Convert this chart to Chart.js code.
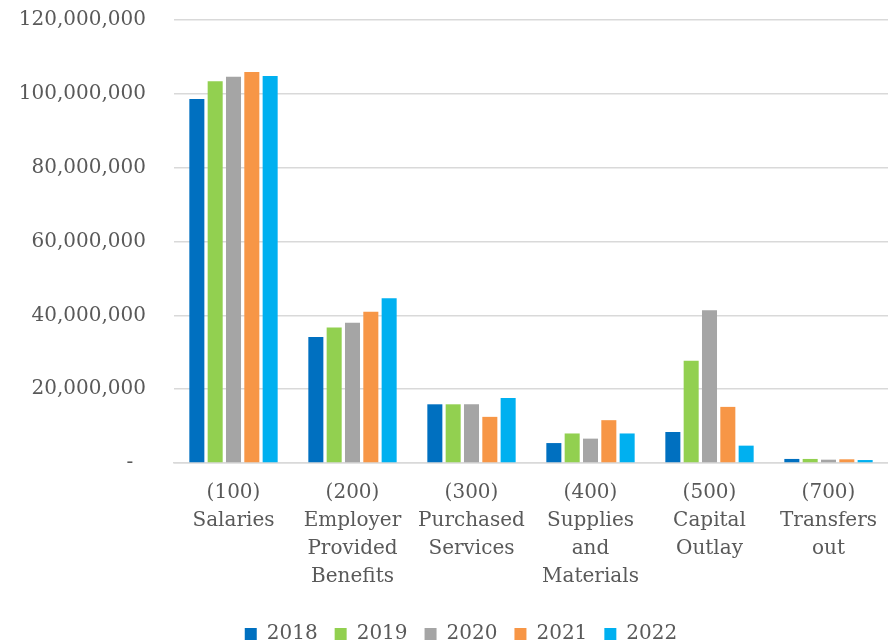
<!DOCTYPE html>
<html>
<head>
<meta charset="utf-8">
<script src="https://cdn.jsdelivr.net/npm/chart.js@4.4.0/dist/chart.umd.min.js"></script>
<style>
  html, body { margin: 0; padding: 0; background: #ffffff; }
  #wrap { width: 888px; height: 643px; position: relative; }
</style>
</head>
<body>
<div id="wrap"><canvas id="expChart"></canvas></div>
<script>
// expenditure categories (multi-line tick labels)
var categories = [
  ['(100)', 'Salaries'],
  ['(200)', 'Employer', 'Provided', 'Benefits'],
  ['(300)', 'Purchased', 'Services'],
  ['(400)', 'Supplies', 'and', 'Materials'],
  ['(500)', 'Capital', 'Outlay'],
  ['(700)', 'Transfers', 'out']
];
var years = ['2018', '2019', '2020', '2021', '2022'];

// amounts per year, same order as categories
var values2018 = [98600000, 34100000, 15900000, 5400000, 8400000, 1100000];
var values2019 = [103400000, 36700000, 15900000, 8000000, 27700000, 1100000];
var values2020 = [104600000, 38000000, 15900000, 6600000, 41400000, 900000];
var values2021 = [105900000, 41000000, 12500000, 11600000, 15200000, 1000000];
var values2022 = [104800000, 44600000, 17600000, 8000000, 4700000, 800000];

var yTicks = [0, 20000000, 40000000, 60000000, 80000000, 100000000, 120000000];

var colors = ['#0070C0', '#92D050', '#A5A5A5', '#F79646', '#00B0F0'];
var series = [values2018, values2019, values2020, values2021, values2022];

var datasets = years.map(function (y, i) {
  return {
    label: y,
    data: series[i],
    backgroundColor: colors[i],
    borderWidth: 0,
    categoryPercentage: 0.77,
    barPercentage: 0.82
  };
});

var font = { family: '"DejaVu Serif", serif', size: 20 };

// nudge the legend row a little to the right
var legendShift = {
  id: 'legendShift',
  afterLayout: function (chart) {
    chart.legend.left += 17;
    chart.legend.right += 17;
  }
};

var ctx = document.getElementById('expChart').getContext('2d');
var chart = new Chart(ctx, {
  type: 'bar',
  data: { labels: categories, datasets: datasets },
  plugins: [legendShift],
  options: {
    responsive: true,
    maintainAspectRatio: false,
    animation: false,
    layout: { padding: { top: 20, right: 0, bottom: -11, left: 0 } },
    plugins: {
      legend: {
        position: 'bottom',
        labels: {
          color: '#595959',
          font: font,
          boxWidth: 12,
          boxHeight: 12,
          padding: 17
        }
      },
      tooltip: { enabled: false }
    },
    scales: {
      x: {
        afterFit: function (scale) {
          scale.paddingLeft = 0;
          scale.paddingRight = 0;
        },
        grid: { display: false, drawTicks: false },
        border: { display: true, color: '#D9D9D9', width: 1.5 },
        ticks: {
          color: '#595959',
          font: { family: font.family, size: 20, lineHeight: 1.4 },
          padding: 16,
          maxRotation: 0,
          minRotation: 0,
          autoSkip: false
        }
      },
      y: {
        min: 0,
        max: 120000000,
        afterFit: function (scale) {
          scale.width = 174;
          scale.paddingTop = 0;
          scale.paddingBottom = 0;
        },
        afterBuildTicks: function (scale) {
          scale.ticks = yTicks.map(function (v) { return { value: v }; });
        },
        grid: { color: '#D9D9D9', lineWidth: 1.5, drawTicks: false },
        border: { display: false },
        ticks: {
          color: '#595959',
          font: font,
          padding: 28,
          callback: function (v) {
            return v === 0 ? '-  ' : Number(v).toLocaleString('en-US');
          }
        }
      }
    }
  }
});
</script>
</body>
</html>
